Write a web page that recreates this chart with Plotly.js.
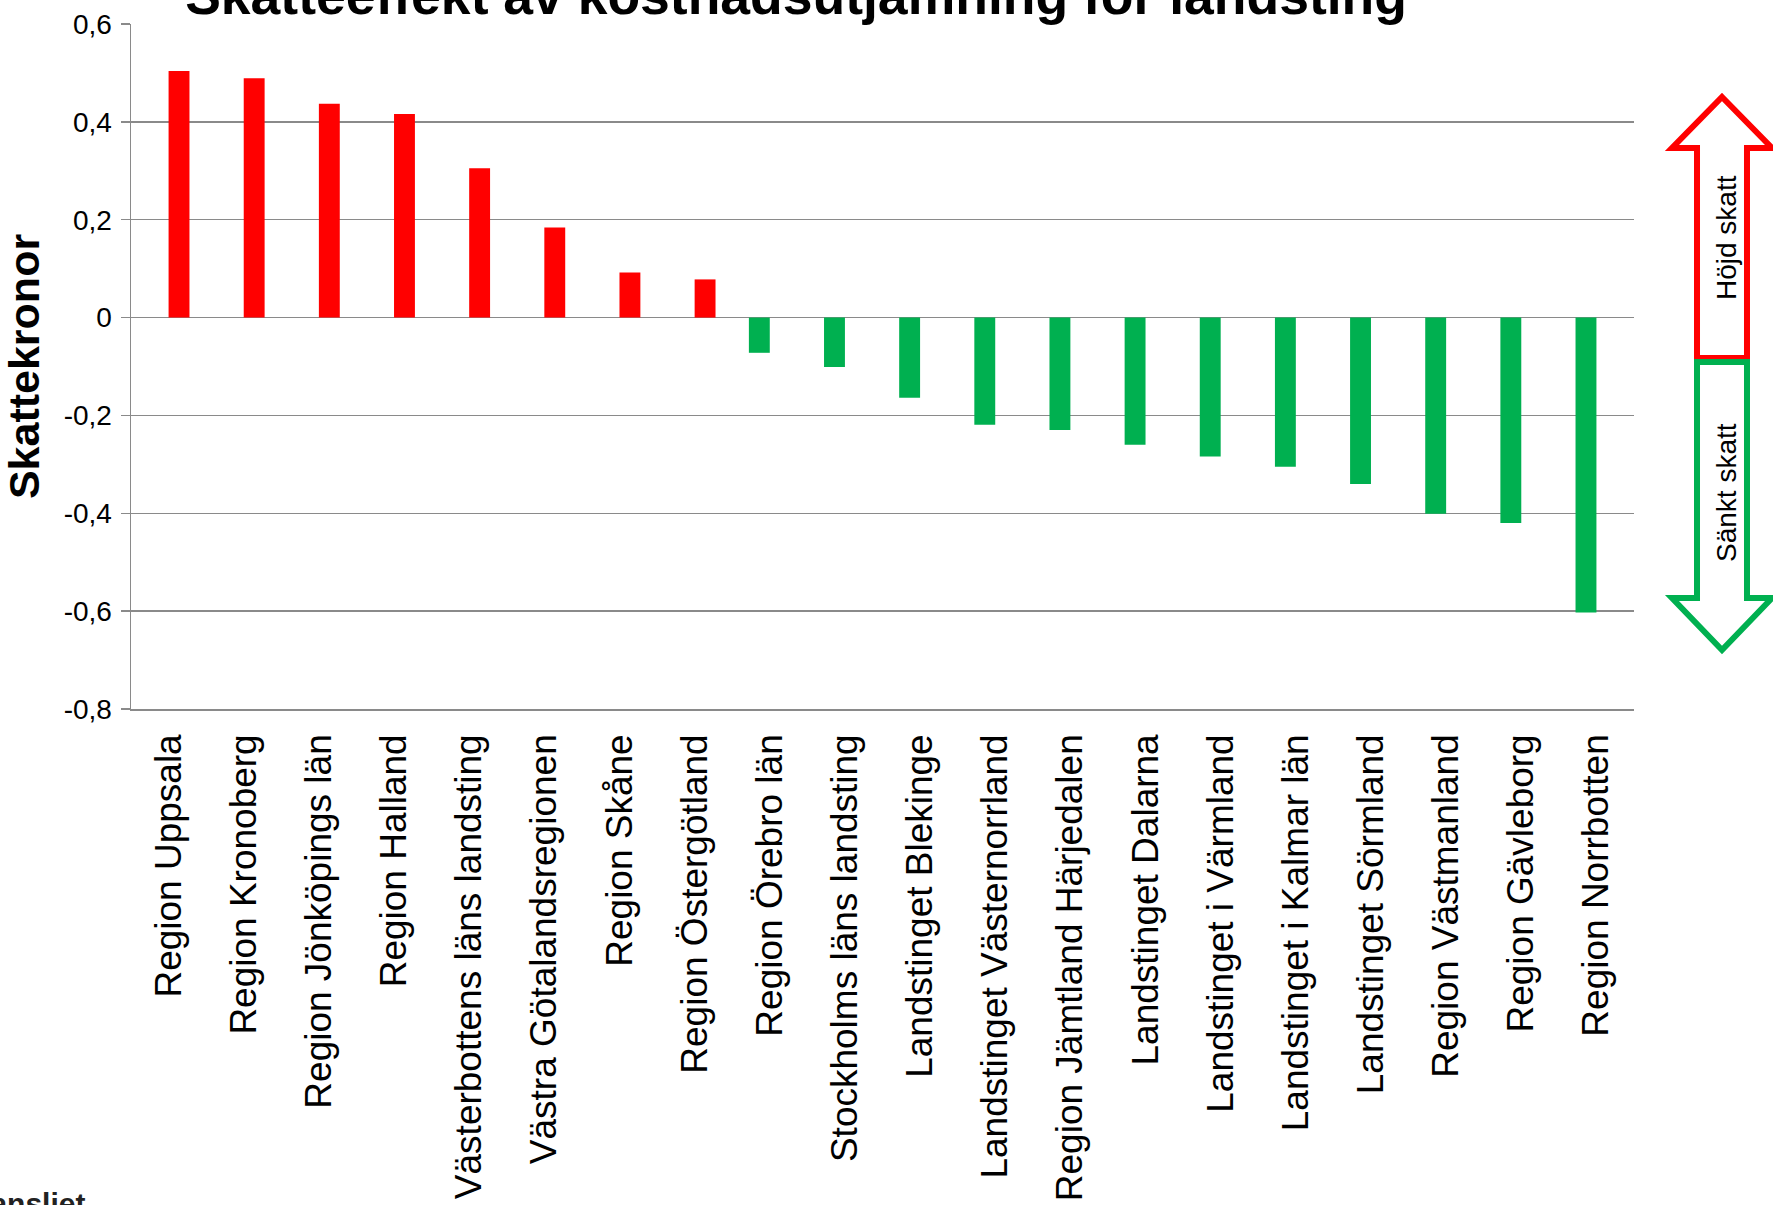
<!DOCTYPE html>
<html>
<head>
<meta charset="utf-8">
<script src="https://cdn.plot.ly/plotly-3.0.1.min.js"></script>
<style>
  html, body { margin: 0; padding: 0; background: #ffffff; }
  #chart { width: 1773px; height: 1205px; }
</style>
</head>
<body>
<div id="chart"></div>
<script>
// ---- Data ----
const categories = [
  'Region Uppsala', 'Region Kronoberg', 'Region Jönköpings län', 'Region Halland',
  'Västerbottens läns landsting', 'Västra Götalandsregionen', 'Region Skåne',
  'Region Östergötland', 'Region Örebro län', 'Stockholms läns landsting',
  'Landstinget Blekinge', 'Landstinget Västernorrland', 'Region Jämtland Härjedalen',
  'Landstinget Dalarna', 'Landstinget i Värmland', 'Landstinget i Kalmar län',
  'Landstinget Sörmland', 'Region Västmanland', 'Region Gävleborg', 'Region Norrbotten'
];
const skatteeffekt = [
  0.504, 0.489, 0.437, 0.416, 0.305, 0.184, 0.092, 0.078,
  -0.072, -0.101, -0.164, -0.219, -0.230, -0.260, -0.284, -0.305,
  -0.340, -0.401, -0.420, -0.603
];
const yTickVals = [-0.8, -0.6, -0.4, -0.2, 0, 0.2, 0.4, 0.6];
const yTickText = ['-0,8', '-0,6', '-0,4', '-0,2', '0', '0,2', '0,4', '0,6'];
const titleText = 'Skatteeffekt av kostnadsutjämning för landsting';
const yTitleText = 'Skattekronor';
const upText = 'Höjd skatt';
const downText = 'Sänkt skatt';
const logoText = 'Regeringskansliet';

// ---- Derived series ----
const hojd = skatteeffekt.map(v => v > 0 ? v : null);
const sankt = skatteeffekt.map(v => v < 0 ? v : null);

const RED = '#FF0000';
const GREEN = '#00B050';
const GRID = '#8A8A8A';
const yMin = -0.8, yMax = 0.6;

// Layout geometry (pixels)
const W = 1773, H = 1205;
const mL = 131, mR = 139, mT = 24, mB = 496;
const plotW = W - mL - mR, plotH = H - mT - mB;
const px = X => (X - mL) / plotW;
const py = Y => (H - mB - Y) / plotH;

function pathFrom(points) {
  return 'M ' + points.map(p => px(p[0]).toFixed(5) + ' ' + py(p[1]).toFixed(5)).join(' L ') + ' Z';
}
// Decorative block arrows on the right side
const cx = 1722;
const upArrow = [[cx, 97], [cx + 50, 148], [cx + 25, 148], [cx + 25, 358], [cx - 25, 358], [cx - 25, 148], [cx - 50, 148]];
const downArrow = [[cx - 25, 362], [cx + 25, 362], [cx + 25, 598], [cx + 50, 598], [cx, 650], [cx - 50, 598], [cx - 25, 598]];

const traces = [
  {
    type: 'bar', x: categories, y: sankt, name: 'Sänkt',
    marker: { color: GREEN, line: { width: 0 } },
    hoverinfo: 'x+y'
  },
  {
    type: 'bar', x: categories, y: hojd, name: 'Höjd',
    marker: { color: RED, line: { width: 0 } },
    hoverinfo: 'x+y'
  }
];

const boundaries = categories.map((c, i) => i - 0.5).concat([categories.length - 0.5]);
const zeroPos = (0 - yMin) / (yMax - yMin);

const layout = {
  width: W, height: H,
  paper_bgcolor: '#ffffff', plot_bgcolor: '#ffffff',
  margin: { l: mL, r: mR, t: mT, b: mB, pad: 0 },
  showlegend: false,
  barmode: 'group',
  bargap: 0.444,
  bargroupgap: 0,
  font: { family: 'Liberation Sans, Arial, sans-serif', color: '#000000' },
  title: {
    text: '<b>' + titleText + '</b>',
    font: { family: 'Liberation Sans, Arial, sans-serif', size: 53.5, color: '#000000' },
    xref: 'container', yref: 'container',
    x: 0.449, xanchor: 'center',
    y: 1 - 14 / H, yanchor: 'bottom'
  },
  xaxis: {
    type: 'category',
    categoryorder: 'array', categoryarray: categories,
    range: [-0.5, categories.length - 0.5],
    tickangle: -90,
    ticks: '',
    ticklabelstandoff: 9,
    tickfont: { family: 'Liberation Sans, Arial, sans-serif', size: 37, color: '#000000' },
    showgrid: false, zeroline: false,
    showline: true, linecolor: GRID, linewidth: 1.5,
    fixedrange: true
  },
  xaxis2: {
    overlaying: 'x', anchor: 'free', position: zeroPos,
    type: 'linear', range: [-0.5, categories.length - 0.5],
    tickmode: 'array', tickvals: boundaries,
    ticks: 'outside', ticklen: 11, tickwidth: 1.5, tickcolor: GRID,
    showticklabels: false, showgrid: false, zeroline: false,
    showline: true, linecolor: GRID, linewidth: 1.5,
    fixedrange: true
  },
  yaxis: {
    range: [yMin, yMax],
    tickmode: 'array', tickvals: yTickVals, ticktext: yTickText,
    ticks: 'outside', ticklen: 9, tickwidth: 1.5, tickcolor: GRID,
    tickfont: { family: 'Liberation Sans, Arial, sans-serif', size: 28, color: '#000000' },
    ticklabelstandoff: 3,
    showgrid: true, gridcolor: GRID, gridwidth: 1.5,
    zeroline: false,
    showline: true, linecolor: GRID, linewidth: 1.5,
    title: {
      text: '<b>' + yTitleText + '</b>',
      font: { family: 'Liberation Sans, Arial, sans-serif', size: 43, color: '#000000' },
      standoff: 14
    },
    fixedrange: true
  },
  shapes: [
    { type: 'path', xref: 'paper', yref: 'paper', path: pathFrom(upArrow),
      line: { color: RED, width: 6 }, fillcolor: 'rgba(255,255,255,1)', layer: 'above' },
    { type: 'path', xref: 'paper', yref: 'paper', path: pathFrom(downArrow),
      line: { color: GREEN, width: 6 }, fillcolor: 'rgba(255,255,255,1)', layer: 'above' }
  ],
  annotations: [
    { xref: 'paper', yref: 'paper', x: px(1726), y: py(238), text: upText, textangle: -90,
      showarrow: false, font: { family: 'Liberation Sans, Arial, sans-serif', size: 28, color: '#000000' },
      xanchor: 'center', yanchor: 'middle' },
    { xref: 'paper', yref: 'paper', x: px(1726), y: py(493), text: downText, textangle: -90,
      showarrow: false, font: { family: 'Liberation Sans, Arial, sans-serif', size: 28, color: '#000000' },
      xanchor: 'center', yanchor: 'middle' },
    { xref: 'paper', yref: 'paper', x: px(87), y: py(1203), text: '<b>' + logoText + '</b>',
      showarrow: false, font: { family: 'Liberation Sans, Arial, sans-serif', size: 30, color: '#222222' },
      xanchor: 'right', yanchor: 'middle' }
  ]
};

Plotly.newPlot('chart', traces, layout, { displayModeBar: false, staticPlot: true });
</script>
</body>
</html>
